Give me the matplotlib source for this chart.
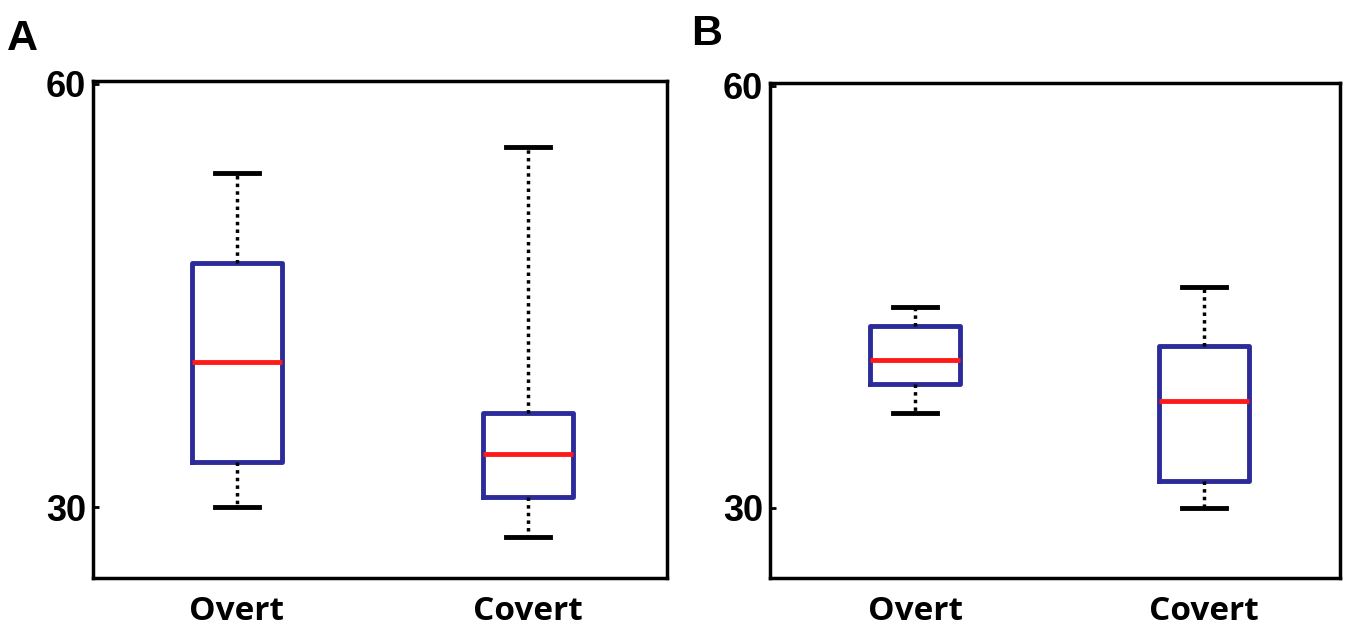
import matplotlib.pyplot as plt

groups = ["Overt", "Covert"]

# panel A: whisker low, q1, median, q3, whisker high
a_low = [30.0, 27.9]
a_q1 = [33.2, 30.7]
a_med = [40.3, 33.8]
a_q3 = [47.3, 36.7]
a_high = [53.7, 55.5]

# panel B
b_low = [36.7, 30.0]
b_q1 = [38.8, 31.9]
b_med = [40.5, 37.6]
b_q3 = [42.9, 41.5]
b_high = [44.3, 45.7]

yticks = [30, 60]

plt.rcParams['font.family'] = ['Open Sans', 'DejaVu Sans']
arial = ['Liberation Sans', 'DejaVu Sans']

fig = plt.figure(figsize=(13.57, 6.33), dpi=100)
ax_a = fig.add_axes([0.0685, 0.087, 0.423, 0.785])
ax_b = fig.add_axes([0.5674, 0.087, 0.420, 0.782])


def draw(ax, low, q1, med, q3, high, xlim, letter, lx, ly):
    stats = []
    for i in range(len(groups)):
        stats.append(dict(label=groups[i], whislo=low[i], q1=q1[i], med=med[i],
                          q3=q3[i], whishi=high[i], fliers=[]))
    ax.bxp(stats, positions=[1, 2], widths=0.31, showfliers=False,
           boxprops=dict(color="#2b2b9a", linewidth=3.5),
           medianprops=dict(color="#ff1a1a", linewidth=3.5),
           whiskerprops=dict(color="black", linewidth=2.5, linestyle=(0, (1, 1.2))),
           capprops=dict(color="black", linewidth=3.5),
           capwidths=0.15)
    ax.set_xlim(*xlim)
    ax.set_ylim(25, 60.2)
    ax.set_yticks(yticks)
    ax.set_yticklabels([str(t) for t in yticks], fontsize=26, fontweight="bold",
                       family=arial)
    ax.set_xticks([1, 2])
    ax.set_xticklabels(groups, fontsize=24, fontweight="bold")
    ax.tick_params(axis="y", direction="in", length=4, width=2, pad=5)
    ax.tick_params(axis="x", length=0, pad=12)
    for s in ax.spines.values():
        s.set_linewidth(2.5)
    fig.text(lx, ly, letter, fontsize=31, fontweight="bold", ha="left", va="top",
             family=arial)


draw(ax_a, a_low, a_q1, a_med, a_q3, a_high, (0.505, 2.478), "A", 0.005, 0.97)
draw(ax_b, b_low, b_q1, b_med, b_q3, b_high, (0.498, 2.47), "B", 0.509, 0.978)

fig.savefig("out.png", dpi=100)
